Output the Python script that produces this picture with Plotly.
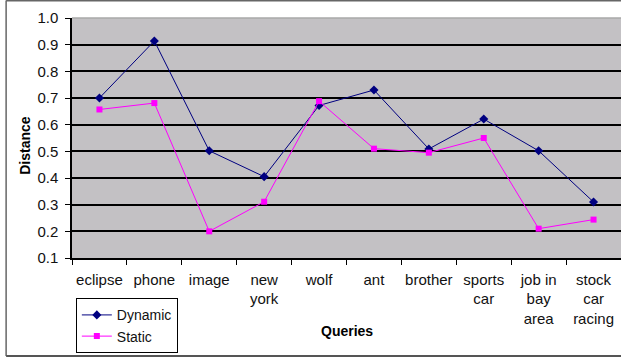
import plotly.graph_objects as go

categories = ["eclipse", "phone", "image", "new<br>york", "wolf", "ant", "brother",
              "sports<br>car", "job in<br>bay<br>area", "stock<br>car<br>racing"]
dynamic = [0.70, 0.914, 0.502, 0.405, 0.672, 0.73, 0.509, 0.621, 0.502, 0.31]
static = [0.657, 0.681, 0.20, 0.311, 0.688, 0.51, 0.495, 0.55, 0.21, 0.244]

FONT = "Liberation Sans, Arial, sans-serif"

fig = go.Figure()
fig.add_trace(go.Scatter(x=categories, y=dynamic, name="Dynamic", mode="lines+markers",
                         line=dict(color="#000080", width=1),
                         marker=dict(symbol="diamond", size=7, color="#000080")))
fig.add_trace(go.Scatter(x=categories, y=static, name="Static", mode="lines+markers",
                         line=dict(color="#FF00FF", width=1),
                         marker=dict(symbol="square", size=6, color="#FF00FF")))

fig.update_layout(
    width=621, height=360,
    margin=dict(l=72, r=0, t=18, b=102),
    paper_bgcolor="white", plot_bgcolor="#C3C1C4",
    font=dict(family=FONT, size=15, color="#111"),
    showlegend=True,
    legend=dict(x=0.007, y=-0.168, xanchor="left", yanchor="top",
                bgcolor="white", bordercolor="black", borderwidth=1,
                font=dict(size=14), tracegroupgap=0, itemwidth=30),
    xaxis=dict(type="category", showline=True, linecolor="black", linewidth=1.5,
               ticks="outside", tickson="boundaries", ticklen=5, tickcolor="black",
               ticklabelstandoff=7,
               showgrid=False, tickfont=dict(size=15), tickangle=0, range=[-0.5, 9.5]),
    yaxis=dict(range=[0.1, 1.0], dtick=0.1, tick0=0.1, tickformat=".1f",
               showline=True, linecolor="black", linewidth=1.5,
               ticks="outside", ticklen=5, tickcolor="black", ticklabelstandoff=4,
               showgrid=True, gridcolor="black", gridwidth=1.5,
               zeroline=False, tickfont=dict(size=15)),
    annotations=[
        dict(text="<b>Distance</b>", x=-0.086, y=0.471, xref="paper", yref="paper",
             textangle=-90, showarrow=False, font=dict(size=14, color="black"),
             xanchor="center", yanchor="middle"),
        dict(text="<b>Queries</b>", x=0.5, y=(258 - 331) / 240, xref="paper", yref="paper",
             showarrow=False, font=dict(size=14, color="black"),
             xanchor="center", yanchor="middle"),
    ],
    shapes=[
        dict(type="line", xref="paper", yref="paper", x0=0, x1=1, y0=1, y1=1,
             line=dict(color="#A8A8A8", width=1.5), layer="above"),
        # outer chart frame
        dict(type="line", xref="paper", yref="paper", x0=-0.12, x1=1.05, y0=1.073, y1=1.073,
             line=dict(color="#666", width=2)),
        dict(type="line", xref="paper", yref="paper", x0=-0.12, x1=-0.12, y0=1.073, y1=-0.408,
             line=dict(color="#666", width=1.5)),
        dict(type="line", xref="paper", yref="paper", x0=-0.12, x1=1.05, y0=-0.408, y1=-0.408,
             line=dict(color="#555", width=2)),
    ],
)

fig.write_html("out.html")
